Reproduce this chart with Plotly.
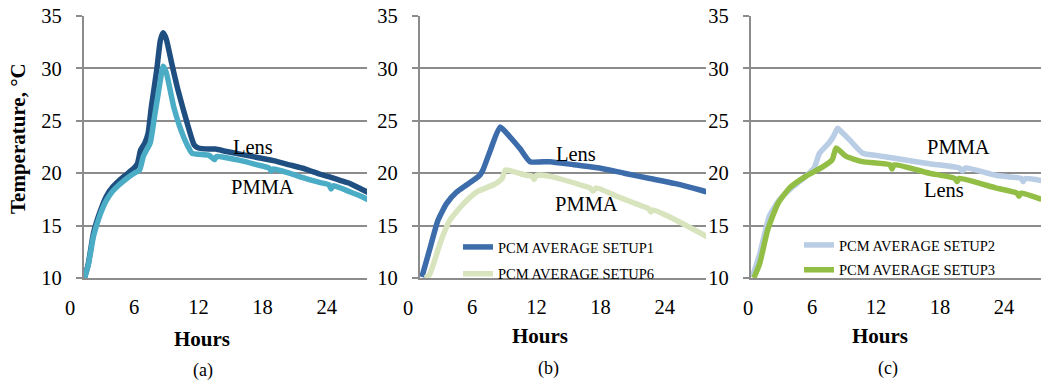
import plotly.graph_objects as go

# ---------------- data ----------------
# Panel (a)
a_lens_hours = [1.35, 1.7, 2.2, 2.8, 3.4, 4.0, 4.6, 5.3, 6.0, 6.3, 6.6, 7.0, 7.3, 7.6, 8.1, 8.45, 8.7,
                9.0, 9.5, 10.0, 10.5, 11.0, 11.6, 12.0, 13.0, 13.6, 14.5, 16.0, 17.5, 19.0, 20.5,
                22.0, 23.4, 24.4, 25.3, 26.2, 27.2, 28.0]
a_lens_temp = [10.0, 11.3, 14.3, 16.3, 17.8, 18.7, 19.3, 19.9, 20.5, 20.9, 22.2, 22.9, 23.8, 26.3, 29.8, 32.7, 33.4,
               32.8, 30.5, 28.3, 26.4, 24.6, 22.7, 22.4, 22.3, 22.3, 22.1, 21.8, 21.5, 21.2, 20.8,
               20.4, 19.9, 19.6, 19.3, 19.0, 18.5, 18.1]
a_pmma_hours = [1.35, 1.7, 2.2, 2.8, 3.4, 4.0, 4.6, 5.3, 6.0, 6.5, 6.85, 7.2, 7.5, 7.9, 8.4, 8.7, 9.0,
                9.7, 10.2, 10.6, 11.0, 11.4, 12.0, 13.0, 13.5, 13.7, 14.5, 16.0, 17.5, 18.6, 18.8,
                19.0, 20.5, 22.0, 23.4, 24.2, 24.4, 24.6, 25.5, 26.2, 27.2, 28.0]
a_pmma_temp = [10.0, 11.2, 14.0, 16.0, 17.4, 18.3, 18.9, 19.5, 20.0, 20.3, 21.6, 22.3, 22.9, 25.4, 28.6, 30.2, 29.6,
               26.3, 24.6, 23.5, 22.6, 21.9, 21.8, 21.7, 21.3, 21.6, 21.5, 21.2, 20.8, 20.5, 20.2,
               20.4, 20.0, 19.5, 19.1, 18.9, 18.5, 18.8, 18.5, 18.2, 17.8, 17.4]

# Panel (b)
b_setup1_hours = [1.3, 2.1, 2.8, 3.6, 4.55, 5.5, 6.7, 7.0, 7.7, 8.6, 9.5, 10.5, 11.4, 13.3, 15.5, 17.9,
                  20.2, 22.6, 25.0, 27.3, 28.0]
b_setup1_temp = [10.1, 13.0, 15.5, 17.1, 18.2, 18.9, 19.8, 20.3, 22.2, 24.4, 23.5, 22.3, 21.1, 21.1, 20.8, 20.5,
                 20.0, 19.5, 19.0, 18.4, 18.2]
b_setup6_hours = [1.6, 2.0, 2.4, 3.1, 3.9, 5.2, 6.4, 8.0, 8.6, 8.8, 9.1, 10.0, 11.1, 11.6, 11.8, 12.0, 13.3,
                  16.4, 17.0, 17.3, 17.6, 19.5, 21.0, 22.5, 22.7, 22.9, 24.5, 27.3, 28.0]
b_setup6_temp = [10.0, 10.3, 11.4, 13.6, 15.5, 17.1, 18.2, 18.9, 19.3, 19.5, 20.3, 20.1, 19.8, 19.7, 19.4, 19.8, 19.7,
                 18.8, 18.6, 18.3, 18.6, 17.8, 17.2, 16.6, 16.3, 16.5, 15.8, 14.3, 13.9]

# Panel (c)
c_setup2_hours = [0.4, 1.1, 2.0, 2.9, 4.2, 5.4, 6.2, 6.7, 7.6, 8.0, 8.4, 8.7, 9.5, 10.75, 12.0, 13.9, 17.0,
                  19.8, 20.1, 20.4, 23.2, 25.6, 25.8, 26.0, 27.5]
c_setup2_temp = [10.1, 12.3, 15.9, 17.4, 18.7, 19.7, 20.5, 21.9, 22.9, 23.5, 24.3, 24.0, 23.2, 21.9, 21.7, 21.4, 20.9,
                 20.5, 20.2, 20.5, 19.8, 19.5, 19.2, 19.5, 19.3]
c_setup3_hours = [0.55, 1.1, 1.85, 2.8, 3.9, 5.4, 7.0, 7.9, 8.25, 9.2, 10.75, 13.3, 13.5, 13.7, 17.0,
                  19.4, 19.6, 19.8, 23.2, 25.2, 25.4, 25.6, 27.5]
c_setup3_temp = [10.0, 11.4, 14.6, 17.1, 18.6, 19.7, 20.6, 21.3, 22.4, 21.6, 21.1, 20.8, 20.4, 20.8, 20.0,
                 19.5, 19.2, 19.5, 18.6, 18.1, 17.8, 18.1, 17.5]

x_tick_vals = [0, 6, 12, 18, 24]
x_tick_text = ["0", "6", "12", "18", "24"]
y_tick_vals = [10, 15, 20, 25, 30, 35]
y_tick_text = ["10", "15", "20", "25", "30", "35"]
legend_b = ["PCM AVERAGE SETUP1", "PCM AVERAGE SETUP6"]
legend_c = ["PCM AVERAGE SETUP2", "PCM AVERAGE SETUP3"]

# ---------------- style / layout ----------------
W, H = 1046, 382
FONT = "Liberation Serif, Times New Roman, serif"
GRID = "#8c8c8c"
Y_TOP_PX, Y_BOT_PX = 16, 278
XLBL_PX = 308  # centre of hour tick labels
PAD = "\u2002"  # en space: gap between y labels and tick marks

# (axis px, right px, zero-hour px, px per hour)
panels = [(84, 367, 70, 10.7), (420, 706, 408, 10.7), (751, 1041, 748, 10.67)]

fig = go.Figure()

def add_line(x, y, color, idx, name=None, legend=None):
    xa = "x" if idx == 1 else f"x{idx}"
    ya = "y" if idx == 1 else f"y{idx}"
    fig.add_trace(go.Scatter(
        x=x, y=y, mode="lines", name=name, xaxis=xa, yaxis=ya,
        line=dict(color=color, width=5.5, shape="spline", smoothing=0.5),
        showlegend=legend is not None, legend=legend if legend else "legend",
        legendgroup=name, hoverinfo="skip"))

add_line(a_lens_hours, a_lens_temp, "#1f4e80", 1)
add_line(a_pmma_hours, a_pmma_temp, "#4bacc6", 1)
add_line(b_setup1_hours, b_setup1_temp, "#3d6cab", 2, legend_b[0], "legend")
add_line(b_setup6_hours, b_setup6_temp, "#d7e4bd", 2, legend_b[1], "legend")
add_line(c_setup2_hours, c_setup2_temp, "#b9cde5", 3, legend_c[0], "legend2")
add_line(c_setup3_hours, c_setup3_temp, "#92be45", 3, legend_c[1], "legend2")

layout = dict(
    width=W, height=H, margin=dict(l=0, r=0, t=0, b=0, autoexpand=False),
    paper_bgcolor="white", plot_bgcolor="white",
    font=dict(family=FONT, size=20.5, color="black"),
)
ydom = [(H - Y_BOT_PX) / H, (H - Y_TOP_PX) / H]
zero_labels = []
for i, (ax_px, right_px, zero_px, pxh) in enumerate(panels, start=1):
    s = "" if i == 1 else str(i)
    h0 = (ax_px - zero_px) / pxh
    h1 = (right_px - zero_px) / pxh
    layout[f"xaxis{s}"] = dict(
        domain=[ax_px / W, right_px / W], range=[h0, h1], anchor=f"y{s}",
        tickvals=x_tick_vals, ticktext=x_tick_text, automargin=False,
        showgrid=False, zeroline=False,
        ticks="outside", ticklen=9, tickcolor="rgba(0,0,0,0)",
        showline=True, linecolor=GRID, linewidth=2,
        tickfont=dict(size=20.5, family=FONT, color="black"))
    layout[f"yaxis{s}"] = dict(
        domain=ydom, range=[10, 35], anchor=f"x{s}", automargin=False,
        tickvals=y_tick_vals, ticktext=[t + PAD for t in y_tick_text],
        showgrid=True, gridcolor=GRID, gridwidth=2, zeroline=False,
        showline=True, linecolor=GRID, linewidth=2,
        ticks="outside", ticklen=6, tickcolor=GRID, tickwidth=2,
        tickfont=dict(size=20.5, family=FONT, color="black"))
    # the "0" hour label sits left of the plotted range; place it on the same hour scale
    zero_labels.append((ax_px + (x_tick_vals[0] - h0) * pxh) / W)

legend_style = dict(bgcolor="rgba(0,0,0,0)", xanchor="left", yanchor="top",
                    font=dict(family=FONT, size=14.5, color="black"), traceorder="grouped")
layout["legend"] = dict(legend_style, x=458 / W, y=1 - 231 / H, tracegroupgap=5)
layout["legend2"] = dict(legend_style, x=799 / W, y=1 - 229 / H, tracegroupgap=3)

fig.update_layout(**layout)

for zx in zero_labels:
    fig.add_annotation(x=zx, y=1 - XLBL_PX / H, xref="paper", yref="paper", text=x_tick_text[0],
                       showarrow=False, font=dict(family=FONT, size=20.5, color="black"),
                       xanchor="center", yanchor="middle")

# curve labels
labels = [("x", "y", 17.1, 22.5, "Lens"), ("x", "y", 18.0, 18.7, "PMMA"),
          ("x2", "y2", 15.7, 21.8, "Lens"), ("x2", "y2", 16.7, 17.1, "PMMA"),
          ("x3", "y3", 19.7, 22.5, "PMMA"), ("x3", "y3", 18.4, 18.4, "Lens")]
for xr, yr, xv, yv, t in labels:
    fig.add_annotation(x=xv, y=yv, xref=xr, yref=yr, text=t, showarrow=False,
                       font=dict(family=FONT, size=20.5, color="black"))

# axis titles and captions
for cx, cy, capx, capy, cap in [(202, 339, 203, 370, "(a)"), (540, 336, 548, 368, "(b)"),
                                (880, 336, 888, 368, "(c)")]:
    fig.add_annotation(x=cx / W, y=1 - cy / H, xref="paper", yref="paper", text="<b>Hours</b>",
                       showarrow=False, font=dict(family=FONT, size=21, color="black"),
                       xanchor="center", yanchor="middle")
    fig.add_annotation(x=capx / W, y=1 - capy / H, xref="paper", yref="paper", text=cap,
                       showarrow=False, font=dict(family=FONT, size=18, color="black"),
                       xanchor="center", yanchor="middle")
fig.add_annotation(x=18 / W, y=1 - 139 / H, xref="paper", yref="paper",
                   text="<b>Temperature, °C</b>", textangle=-90, showarrow=False,
                   font=dict(family=FONT, size=21, color="black"),
                   xanchor="center", yanchor="middle")

# remove the browser's default 8px page margin so the figure fills the window exactly
fig.write_html("out.html", config={"displayModeBar": False},
               post_script="document.body.style.margin='0';document.body.style.overflow='hidden';")
